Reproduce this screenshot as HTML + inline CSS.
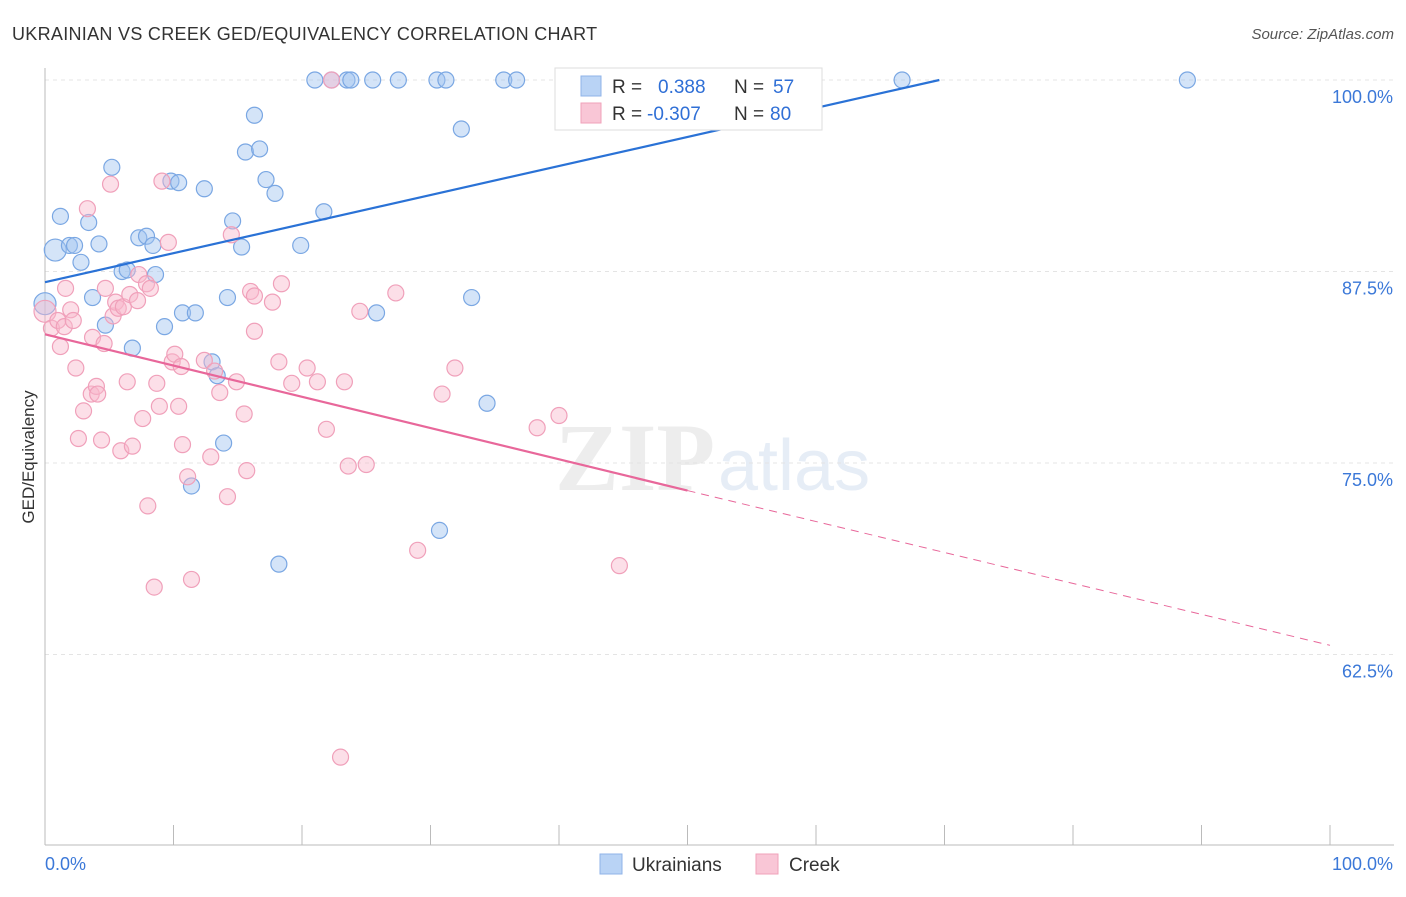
<!DOCTYPE html>
<html><head><meta charset="utf-8"><style>
body{margin:0;background:#fff;font-family:"Liberation Sans",sans-serif;}
</style></head><body>
<svg width="1406" height="892" xmlns="http://www.w3.org/2000/svg" font-family="Liberation Sans, sans-serif">
<text x="12" y="40" font-size="18" fill="#333" letter-spacing="0.3">UKRAINIAN VS CREEK GED/EQUIVALENCY CORRELATION CHART</text>
<text x="1394" y="39" font-size="15" fill="#555" text-anchor="end" font-style="italic">Source: ZipAtlas.com</text>
<text transform="translate(34,457) rotate(-90)" font-size="17" fill="#333" text-anchor="middle">GED/Equivalency</text>
<g opacity="0.35">
<text x="555" y="490" font-size="96" fill="#ccc" font-family="Liberation Serif, serif" font-weight="bold">ZIP</text>
<text x="718" y="490" font-size="72" fill="#b8cce8">atlas</text>
</g>
<g id="grid"></g>
<g id="axes"></g>
<g id="marks"></g>
<g>
<rect x="555" y="68" width="267" height="62" fill="#fff" stroke="#ddd"/>
<rect x="581" y="76" width="20" height="20" fill="#b9d3f5" stroke="#8fb3e8"/>
<rect x="581" y="103" width="20" height="20" fill="#f9c6d6" stroke="#f0a2ba"/>
<text x="612" y="93" font-size="19" fill="#333">R = </text><text x="658" y="93" font-size="19" fill="#2f6fd6">0.388</text>
<text x="734" y="93" font-size="19" fill="#333">N = </text><text x="773" y="93" font-size="19" fill="#2f6fd6">57</text>
<text x="612" y="120" font-size="19" fill="#333">R = </text><text x="647" y="120" font-size="19" fill="#2f6fd6">-0.307</text>
<text x="734" y="120" font-size="19" fill="#333">N = </text><text x="770" y="120" font-size="19" fill="#2f6fd6">80</text>
</g>
<g>
<rect x="600" y="854" width="22" height="20" fill="#b9d3f5" stroke="#8fb3e8"/>
<text x="632" y="871" font-size="19" fill="#333">Ukrainians</text>
<rect x="756" y="854" width="22" height="20" fill="#f9c6d6" stroke="#f0a2ba"/>
<text x="789" y="871" font-size="19" fill="#333">Creek</text>
</g>
</svg>
<script>
const blueX=[0.8,0,1.2,1.9,2.3,3.4,2.8,4.2,5.2,3.7,4.7,6,6.4,6.8,7.3,7.9,8.4,8.6,9.3,9.8,10.4,10.7,11.7,12.4,13,13.4,13.9,11.4,14.2,14.6,15.3,15.6,16.3,16.7,17.2,17.9,18.2,19.9,21,21.7,22.3,23.5,23.8,25.5,27.5,25.8,30.5,31.2,32.4,33.2,34.4,30.7,35.7,36.7,47.5,66.7,88.9];
const blueY=[88.9,85.4,91.1,89.2,89.2,90.7,88.1,89.3,94.3,85.8,84,87.5,87.6,82.5,89.7,89.8,89.2,87.3,83.9,93.4,93.3,84.8,84.8,92.9,81.6,80.7,76.3,73.5,85.8,90.8,89.1,95.3,97.7,95.5,93.5,92.6,68.4,89.2,100,91.4,100,100,100,100,100,84.8,100,100,96.8,85.8,78.9,70.6,100,100,100,100,100];
const pinkX=[0,0.5,1,1.2,1.5,2,2.2,1.6,2.4,2.6,3,3.3,3.6,3.7,4,4.1,4.4,4.6,4.7,5.1,5.3,5.5,5.7,5.9,6.1,6.4,6.6,6.8,7.2,7.3,7.6,7.9,8,8.2,8.5,8.7,8.9,9.1,9.6,9.9,10.1,10.4,10.6,10.7,11.1,11.4,12.4,12.9,13.2,13.6,14.2,14.5,14.9,15.5,15.7,16,16.3,16.3,17.7,18.2,18.4,19.2,20.4,21.2,21.9,22.3,23,23.3,23.6,24.5,25,27.3,29,30.9,31.9,38.3,40,44.7];
const pinkY=[84.9,83.8,84.3,82.6,83.9,85,84.3,86.4,81.2,76.6,78.4,91.6,79.5,83.2,80,79.5,76.5,82.8,86.4,93.2,84.6,85.5,85.1,75.8,85.2,80.3,86,76.1,85.6,87.3,77.9,86.7,72.2,86.4,66.9,80.2,78.7,93.4,89.4,81.6,82.1,78.7,81.3,76.2,74.1,67.4,81.7,75.4,81,79.6,72.8,89.9,80.3,78.2,74.5,86.2,83.6,85.9,85.5,81.6,86.7,80.2,81.2,80.3,77.2,100,55.8,80.3,74.8,84.9,74.9,86.1,69.3,79.5,81.2,77.3,78.1,68.3];
const X=v=>45+v/100*1285, Y=v=>80+(100-v)/12.5*191.5;
const ns="http://www.w3.org/2000/svg";
function mk(p,t,a){const e=document.createElementNS(ns,t);for(const k in a)e.setAttribute(k,a[k]);document.getElementById(p).appendChild(e);return e;}
const yT=[100,87.5,75,62.5], yL=["100.0%","87.5%","75.0%","62.5%"];
yT.forEach((v,i)=>{const l=mk('grid','line',{x1:45,x2:1394,y1:Y(v),y2:Y(v),stroke:'#e4e4e4','stroke-dasharray':'4,4'});


const t=mk('grid','text',{x:1393,y:Y(v)+23,'font-size':18,fill:'#3b78d8','text-anchor':'end'});t.textContent=yL[i];

});
const ax=mk('axes','line',{x1:45,x2:45,y1:68,y2:845,stroke:'#bbb'});


const bx=mk('axes','line',{x1:45,x2:1394,y1:845,y2:845,stroke:'#bbb'});


for(let i=0;i<=10;i++){const t=mk('axes','line',{x1:X(i*10),x2:X(i*10),y1:825,y2:845,stroke:'#bbb'});

}
[["0.0%",45,'start'],["100.0%",1393,'end']].forEach(a=>{const t=mk('axes','text',{x:a[1],y:870,'font-size':18,fill:'#3b78d8','text-anchor':a[2]});t.textContent=a[0];

});
blueX.forEach((v,i)=>{const c=mk('marks','circle',{cx:X(v),cy:Y(blueY[i]),r:(i<2?11:8),fill:'rgba(160,195,240,0.45)',stroke:'#7aa7e3','stroke-width':1.2});

});
pinkX.forEach((v,i)=>{const c=mk('marks','circle',{cx:X(v),cy:Y(pinkY[i]),r:(i<1?11:8),fill:'rgba(248,185,205,0.45)',stroke:'#f0a0ba','stroke-width':1.2});

});
const b=mk('marks','line',{x1:X(0),y1:Y(86.8),x2:X(69.6),y2:Y(100),stroke:'#2a72d6','stroke-width':2.2});


const p=mk('marks','line',{x1:X(0),y1:Y(83.4),x2:X(50),y2:Y(73.2),stroke:'#e8679a','stroke-width':2.2});


const pd=mk('marks','line',{x1:X(50),y1:Y(73.2),x2:X(100),y2:Y(63.1),stroke:'#e8679a','stroke-width':1,'stroke-dasharray':'8,6'});


</script>
</body></html>
